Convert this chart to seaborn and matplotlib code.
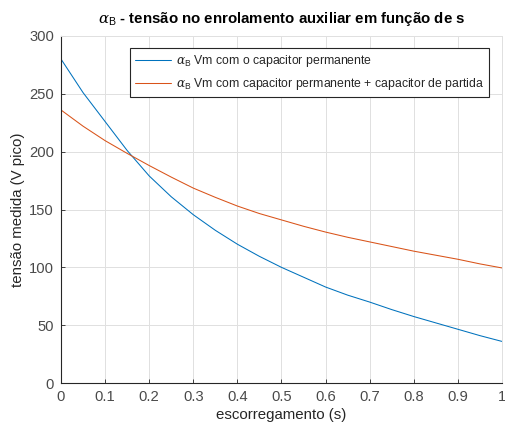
import numpy as np
import pandas as pd
import matplotlib
matplotlib.use("Agg")
import matplotlib.pyplot as plt
import seaborn as sns

# slip values and measured auxiliary-winding voltages (V peak)
slip = [0.0, 0.05, 0.1, 0.15, 0.2, 0.25, 0.3, 0.35, 0.4, 0.45, 0.5,
        0.55, 0.6, 0.65, 0.7, 0.75, 0.8, 0.85, 0.9, 0.95, 1.0]
v_perm = [280, 251, 226, 201, 179, 161, 145.5, 132, 120, 109.5, 100,
          91.5, 83, 76, 70, 63.5, 57.5, 52, 46.5, 41, 36]
v_perm_partida = [236, 222, 209.5, 198.5, 188, 178, 168.5, 160.5, 153, 146.5, 141,
                  135.5, 130.5, 126, 122, 118, 114, 110.5, 107, 103, 99.5]

label_perm = r"$\alpha_{\rm B}$ Vm com o capacitor permanente"
label_partida = r"$\alpha_{\rm B}$ Vm com capacitor permanente + capacitor de partida"

df = pd.DataFrame({
    "s": slip * 2,
    "v": v_perm + v_perm_partida,
    "serie": [label_perm] * len(slip) + [label_partida] * len(slip),
})

sns.set_theme(style="whitegrid")
plt.rcParams["font.family"] = ["Liberation Sans", "DejaVu Sans"]
plt.rcParams["mathtext.fontset"] = "custom"
plt.rcParams["mathtext.rm"] = "Liberation Sans"
plt.rcParams["mathtext.it"] = "DejaVu Serif:italic"

fig = plt.figure(figsize=(5.06, 4.28), dpi=100)
ax = fig.add_axes([0.1206, 0.105, 0.8714, 0.811])

palette = {label_perm: "#0072BD", label_partida: "#D95319"}
sns.lineplot(data=df, x="s", y="v", hue="serie", palette=palette,
             linewidth=0.75, ax=ax, legend=True)

ax.set_xlim(0, 1)
ax.set_ylim(0, 300)
ax.set_xticks(np.arange(0, 1.01, 0.1))
ax.set_xticklabels(["0", "0.1", "0.2", "0.3", "0.4", "0.5", "0.6", "0.7", "0.8", "0.9", "1"])
ax.set_yticks(np.arange(0, 301, 50))

ax.grid(True, color="#e0e0e0", linewidth=0.7)
ax.set_facecolor("white")
for side in ["top", "right"]:
    ax.spines[side].set_color("#e0e0e0")
    ax.spines[side].set_linewidth(0.7)
for side in ["left", "bottom"]:
    ax.spines[side].set_color("#262626")
    ax.spines[side].set_linewidth(0.8)

ax.tick_params(axis="both", direction="in", length=3, width=0.6,
               colors="#262626", labelsize=10.6, labelcolor="#4a4a4a",
               bottom=True, left=True, pad=5)

ax.set_xlabel("escorregamento (s)", fontsize=10.8, color="#262626", labelpad=3)
ax.set_ylabel("tensão medida (V pico)", fontsize=10.8, color="#262626", labelpad=3)
ax.set_title(r"$\alpha_{\rm B}$ - tensão no enrolamento auxiliar em função de s",
             fontsize=10.8, fontweight="bold", color="black", pad=9)

leg = ax.legend(loc="upper right", bbox_to_anchor=(0.977, 0.972), fontsize=8.8,
                frameon=True, fancybox=False, edgecolor="#262626",
                framealpha=1, handlelength=3.0, borderpad=0.4,
                labelspacing=0.6, handletextpad=0.4, borderaxespad=0.2)
leg.get_frame().set_linewidth(0.8)

fig.savefig("out.png", dpi=100, facecolor="white")
